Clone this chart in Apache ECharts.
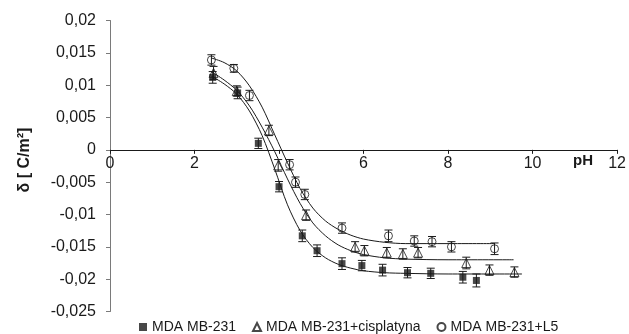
<!DOCTYPE html>
<html>
<head>
<meta charset="utf-8">
<script src="https://cdn.jsdelivr.net/npm/echarts@6/dist/echarts.min.js"></script>
<style>
  html, body { margin: 0; padding: 0; background: #fff; }
  #chart { width: 629px; height: 334px; }
</style>
</head>
<body>
<div id="chart"></div>
<script>
// punkty pomiarowe (pH, delta) + niepewnosc
var sqPH   = [2.43, 3.02, 3.51, 4.00, 4.55, 4.90, 5.49, 5.96, 6.45, 7.04, 7.59, 8.35, 8.67];
var sqVal  = [0.0112, 0.0088, 0.0010, -0.0057, -0.0133, -0.0156, -0.0176, -0.0179, -0.0186, -0.0190, -0.0191, -0.0197, -0.0202];
var sqErr  = [0.0009, 0.0009, 0.0008, 0.0008, 0.0009, 0.0009, 0.0009, 0.0008, 0.0009, 0.0008, 0.0008, 0.0009, 0.0010];

var trPH   = [2.45, 3.00, 3.76, 3.98, 4.64, 5.80, 6.02, 6.55, 6.93, 7.29, 8.43, 8.98, 9.57];
var trVal  = [0.0119, 0.0091, 0.0030, -0.0024, -0.0101, -0.0150, -0.0156, -0.0159, -0.0161, -0.0159, -0.0175, -0.0186, -0.0189];
var trErr  = [0.0010, 0.0008, 0.0008, 0.0009, 0.0008, 0.0008, 0.0008, 0.0008, 0.0008, 0.0008, 0.0009, 0.0008, 0.0008];

var ciPH   = [2.40, 2.93, 3.30, 4.25, 4.39, 4.61, 5.49, 6.59, 7.20, 7.62, 8.08, 9.10];
var ciVal  = [0.0139, 0.0126, 0.0084, -0.0023, -0.0050, -0.0069, -0.0121, -0.0133, -0.0141, -0.0142, -0.0150, -0.0153];
var ciErr  = [0.0008, 0.0006, 0.0008, 0.0008, 0.0008, 0.0008, 0.0008, 0.0009, 0.0008, 0.0008, 0.0008, 0.0009];

// krzywe dopasowania
var sqFitPH  = [2.4, 2.7, 3.0, 3.3, 3.6, 3.9, 4.2, 4.5, 4.8, 5.1, 5.4, 5.7, 6.0, 6.5, 7.0, 8.0, 9.75];
var sqFitVal = [0.0114, 0.0102, 0.0086, 0.0060, 0.0022, -0.0030, -0.0085, -0.0125, -0.0151, -0.0167, -0.0177, -0.0183, -0.0187, -0.0190, -0.0191, -0.0192, -0.0192];
var trFitPH  = [2.4, 2.7, 3.0, 3.3, 3.6, 3.9, 4.2, 4.5, 4.8, 5.1, 5.4, 5.7, 6.0, 6.5, 7.0, 8.0, 9.55];
var trFitVal = [0.0121, 0.0108, 0.0092, 0.0068, 0.0035, -0.0003, -0.0045, -0.0083, -0.0113, -0.0133, -0.0147, -0.0156, -0.0162, -0.0167, -0.0169, -0.0170, -0.0170];
var ciFitPH  = [2.4, 2.7, 3.0, 3.3, 3.6, 3.9, 4.2, 4.5, 4.8, 5.1, 5.4, 5.7, 6.0, 6.5, 7.0, 8.0, 9.1];
var ciFitVal = [0.0142, 0.0135, 0.0122, 0.0099, 0.0066, 0.0023, -0.0020, -0.0060, -0.0090, -0.0110, -0.0123, -0.0132, -0.0138, -0.0143, -0.0145, -0.0145, -0.0145];

var names = ['MDA MB-231', 'MDA MB-231+cisplatyna', 'MDA MB-231+L5'];
// etykiety osi pH widoczne na oryginale ("4" jest zasloniete przez punkty)
var xTicks = [0, 2, 6, 8, 10, 12];

var FONT = '"Liberation Sans", Arial, sans-serif';
var INK = '#1a1a1a';

function pairs(xs, ys) {
  return xs.map(function (x, i) { return [x, ys[i]]; });
}
function errData(xs, ys, es) {
  return xs.map(function (x, i) { return [x, ys[i] - es[i], ys[i] + es[i]]; });
}

function errorBars(params, api) {
  var x = api.value(0);
  var lo = api.coord([x, api.value(1)]);
  var hi = api.coord([x, api.value(2)]);
  var hw = 4;
  var st = { stroke: INK, lineWidth: 1 };
  return {
    type: 'group',
    children: [
      { type: 'line', shape: { x1: lo[0], y1: lo[1], x2: hi[0], y2: hi[1] }, style: st },
      { type: 'line', shape: { x1: lo[0] - hw, y1: lo[1], x2: lo[0] + hw, y2: lo[1] }, style: st },
      { type: 'line', shape: { x1: hi[0] - hw, y1: hi[1], x2: hi[0] + hw, y2: hi[1] }, style: st }
    ]
  };
}

function fitLine(xs, ys) {
  return {
    type: 'line', data: pairs(xs, ys), smooth: 0.3,
    showSymbol: false, silent: true, z: 1,
    lineStyle: { color: INK, width: 1 }
  };
}

function errSeries(xs, ys, es) {
  return {
    type: 'custom', data: errData(xs, ys, es), renderItem: errorBars,
    silent: true, z: 2, encode: { x: 0, y: [1, 2] }
  };
}

var chart = echarts.init(document.getElementById('chart'));

var option = {
  animation: false,
  grid: { left: 110, right: 9, top: 20.5, bottom: 22.5 },
  xAxis: {
    type: 'value', min: 0, max: 12, interval: 2,
    axisLine: { onZero: true, lineStyle: { color: INK, width: 1 } },
    axisTick: { length: 4, lineStyle: { color: INK } },
    axisLabel: {
      // etykiety przy linii zera (os na y = 0)
      margin: -156, fontSize: 16, fontFamily: FONT, color: INK,
      formatter: function (v) { return xTicks.indexOf(v) >= 0 ? String(v) : ''; }
    },
    splitLine: { show: false }
  },
  yAxis: {
    type: 'value', min: -0.025, max: 0.02, interval: 0.005,
    axisLine: { show: true, lineStyle: { color: '#7a7a7a', width: 1 } },
    axisTick: { show: true, length: 4, lineStyle: { color: '#7a7a7a' } },
    axisLabel: {
      margin: 14, fontSize: 16, fontFamily: FONT, color: INK,
      formatter: function (v) { return String(+v.toFixed(3)).replace('.', ','); }
    },
    splitLine: { show: false }
  },
  legend: {
    data: names,
    left: 134, top: 315,
    itemWidth: 8, itemHeight: 8, itemGap: 16,
    textStyle: { fontSize: 14, fontFamily: FONT, color: INK }
  },
  graphic: [
    {
      type: 'text', x: 25, y: 160, rotation: Math.PI / 2,
      style: {
        text: 'δ [ C/m²]', font: 'bold 16px ' + FONT, fill: INK,
        align: 'center', verticalAlign: 'middle'
      }
    },
    {
      type: 'text', x: 583, y: 161,
      style: {
        text: 'pH', font: 'bold 15px ' + FONT, fill: INK,
        align: 'center', verticalAlign: 'middle'
      }
    }
  ],
  series: [
    fitLine(sqFitPH, sqFitVal),
    fitLine(trFitPH, trFitVal),
    fitLine(ciFitPH, ciFitVal),
    errSeries(sqPH, sqVal, sqErr),
    errSeries(trPH, trVal, trErr),
    errSeries(ciPH, ciVal, ciErr),
    {
      name: names[0], type: 'scatter', data: pairs(sqPH, sqVal), z: 3,
      symbol: 'rect', symbolSize: 7,
      itemStyle: { color: INK }
    },
    {
      name: names[1], type: 'scatter', data: pairs(trPH, trVal), z: 3,
      symbol: 'triangle', symbolSize: 9,
      itemStyle: { color: 'rgba(255,255,255,0)', borderColor: INK, borderWidth: 1 }
    },
    {
      name: names[2], type: 'scatter', data: pairs(ciPH, ciVal), z: 3,
      symbol: 'circle', symbolSize: 8,
      itemStyle: { color: 'rgba(255,255,255,0)', borderColor: INK, borderWidth: 1 }
    }
  ]
};

chart.setOption(option);
</script>
</body>
</html>
